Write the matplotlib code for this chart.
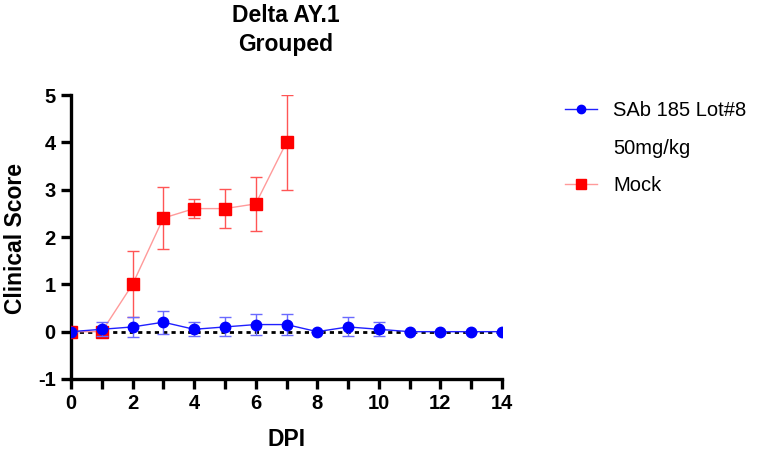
import matplotlib
matplotlib.use("Agg")
import matplotlib.pyplot as plt
from matplotlib.lines import Line2D
import numpy as np

plt.rcParams['font.family'] = ['Liberation Sans', 'DejaVu Sans']

days_sab = [0, 1, 2, 3, 4, 5, 6, 7, 8, 9, 10, 11, 12, 13, 14]
sab_mean = [0, 0.05, 0.1, 0.2, 0.05, 0.1, 0.15, 0.15, 0, 0.1, 0.05, 0, 0, 0, 0]
sab_err = [0, 0.15, 0.22, 0.24, 0.15, 0.2, 0.23, 0.23, 0, 0.2, 0.15, 0, 0, 0, 0]

days_mock = [0, 1, 2, 3, 4, 5, 6, 7]
mock_mean = [0, 0, 1.0, 2.4, 2.6, 2.6, 2.7, 4.0]
mock_err = [0, 0, 0.7, 0.65, 0.2, 0.42, 0.57, 1.0]

title = "Delta AY.1\nGrouped"
xlabel = "DPI"
ylabel = "Clinical Score"
label_sab_lines = ["SAb 185 Lot#8", "50mg/kg"]
label_mock = "Mock"

sab_line = '#2020ff'
sab_mark = '#0000ff'
mock_line = '#ff9a9a'
mock_mark = '#ff0000'

fig = plt.figure(figsize=(7.7, 4.55), dpi=100)
ax = fig.add_axes([71/770, 1-379/455, (502-71)/770, (379-95)/455])

ax.axhline(0, color='black', linestyle=(0, (1.5, 1.5)), linewidth=2, zorder=1)

ax.errorbar(days_mock, mock_mean, yerr=mock_err, color=mock_line, linewidth=1,
            ecolor='#ff5555', elinewidth=1, capsize=4.5, capthick=1,
            marker='s', markersize=8.5, markerfacecolor=mock_mark, markeredgecolor=mock_mark,
            zorder=3)
ax.errorbar(days_sab, sab_mean, yerr=sab_err, color=sab_line, linewidth=1,
            ecolor='#6a6aff', elinewidth=1, capsize=4.5, capthick=1,
            marker='o', markersize=7.5, markerfacecolor=sab_mark, markeredgecolor=sab_mark,
            zorder=4)

ax.set_xlim(0, 14)
ax.set_ylim(-1, 5)
ax.set_xticks(range(0, 15))
ax.set_xticklabels([str(d) if d % 2 == 0 else '' for d in range(0, 15)])
ax.set_yticks(range(-1, 6))
ax.set_yticklabels([str(v) for v in range(-1, 6)])

for s in ['top', 'right']:
    ax.spines[s].set_visible(False)
for s in ['left', 'bottom']:
    ax.spines[s].set_linewidth(2.4)
    ax.spines[s].set_color('black')
ax.tick_params(axis='both', direction='out', length=7, width=2.4, labelsize=14.5, pad=4)
for lab in ax.get_xticklabels() + ax.get_yticklabels():
    lab.set_fontweight('bold')

ax.set_xlabel(xlabel, fontsize=16.5, fontweight='bold')
ax.xaxis.set_label_coords(0.5, -(440 - 379) / 284, transform=ax.transAxes)
ax.xaxis.label.set_va('center')
ax.set_ylabel(ylabel, fontsize=16.5, fontweight='bold')
ax.yaxis.set_label_coords(-(71 - 16) / 431, (379 - 238) / 284, transform=ax.transAxes)
ax.yaxis.label.set_va('center')

fig.text(286 / 770, 1 - 30 / 455, title, fontsize=16.5, fontweight='bold',
         ha='center', va='center', linespacing=1.3)

handles = [
    Line2D([], [], color=sab_line, linewidth=1, marker='o', markersize=6,
           markerfacecolor=sab_mark, markeredgecolor=sab_mark),
    Line2D([], [], linestyle='none', marker=None, visible=False),
    Line2D([], [], color=mock_line, linewidth=1, marker='s', markersize=6.5,
           markerfacecolor=mock_mark, markeredgecolor=mock_mark),
]
leg = fig.legend(handles, label_sab_lines + [label_mock], loc='upper left',
                 bbox_to_anchor=(565/770, 1-101/455),
                 frameon=False, fontsize=14.5, handlelength=1.6, handletextpad=0.8,
                 labelspacing=0.92, borderpad=0, borderaxespad=0)

fig.savefig("out.png", dpi=100)
